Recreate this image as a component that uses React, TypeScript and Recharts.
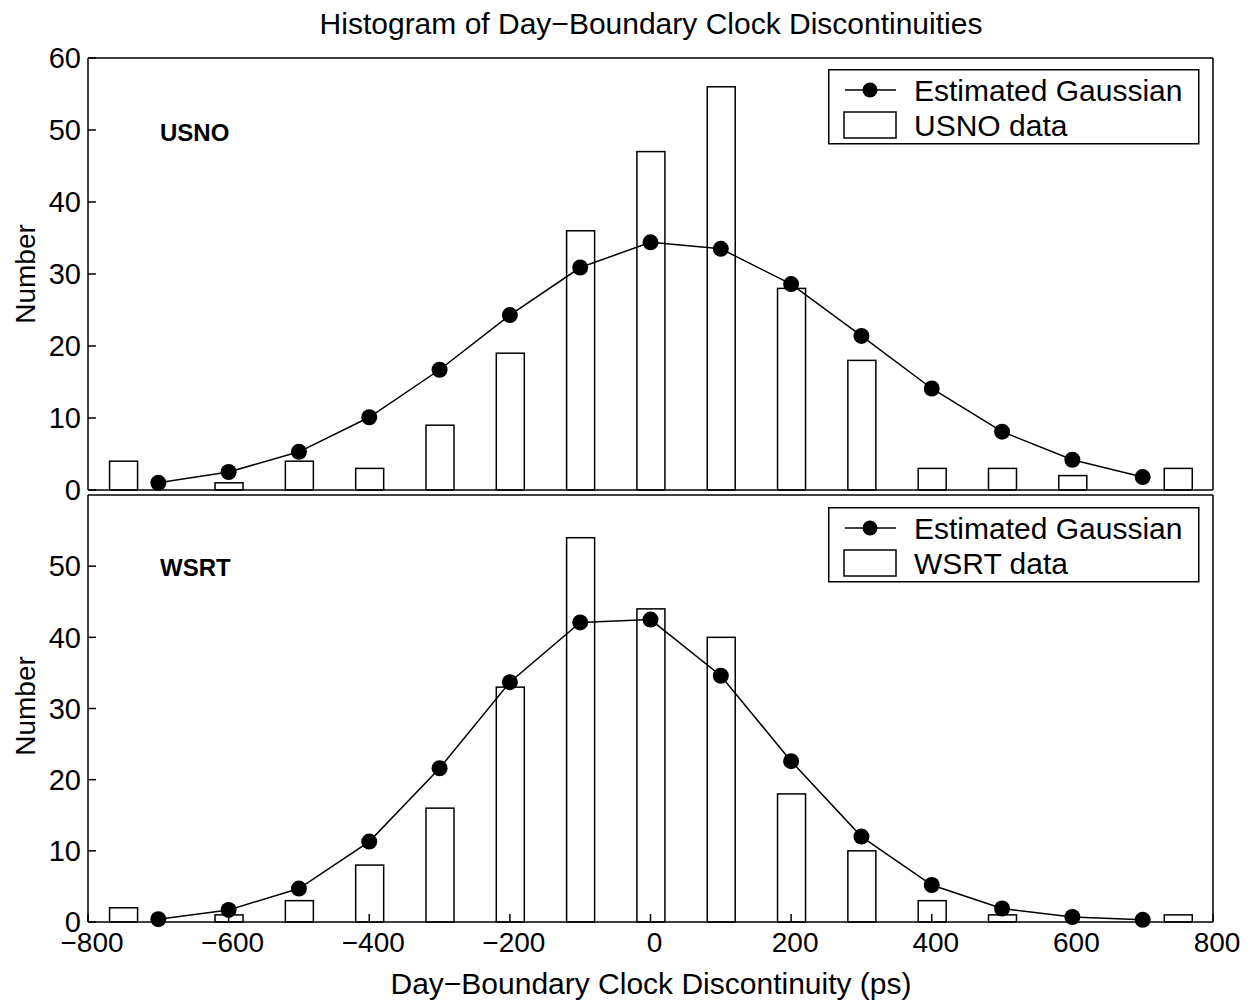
import { ComposedChart, Bar, Line, XAxis, YAxis } from 'recharts'

// histogram bins (ps) and counts
const binCenters = [-750, -600, -500, -400, -300, -200, -100, 0, 100, 200, 300, 400, 500, 600, 750]
const usnoCounts = [4, 1, 4, 3, 9, 19, 36, 47, 56, 28, 18, 3, 3, 2, 3]
const wsrtCounts = [2, 1, 3, 8, 16, 33, 54, 44, 40, 18, 10, 3, 1, 0, 1]

// estimated gaussian sample points
const gaussCenters = [-700, -600, -500, -400, -300, -200, -100, 0, 100, 200, 300, 400, 500, 600, 700]
const usnoGauss = [1.0, 2.5, 5.3, 10.1, 16.7, 24.3, 30.9, 34.4, 33.5, 28.6, 21.4, 14.1, 8.1, 4.2, 1.8]
const wsrtGauss = [0.4, 1.7, 4.7, 11.3, 21.6, 33.7, 42.1, 42.5, 34.6, 22.6, 12.0, 5.2, 1.9, 0.7, 0.3]

const xTicks = [-800, -600, -400, -200, 0, 200, 400, 600, 800]
const yTicksTop = [0, 10, 20, 30, 40, 50, 60]
const yTicksBottom = [0, 10, 20, 30, 40, 50]

const FONT = '"Liberation Sans", Arial, Helvetica, sans-serif'
const W = 1251

function buildRows(counts: number[], gauss: number[]) {
  const xs = Array.from(new Set([...binCenters, ...gaussCenters])).sort((a, b) => a - b)
  return xs.map((x) => {
    const bi = binCenters.indexOf(x)
    const gi = gaussCenters.indexOf(x)
    return {
      x,
      count: bi >= 0 ? counts[bi] : null,
      gauss: gi >= 0 ? gauss[gi] : null,
    }
  })
}

const fmt = (v: number) => (v < 0 ? `\u2212${-v}` : `${v}`)

const BarShape = (props: any) => {
  const { x, y, width, height, value } = props
  if (value == null || !height || height <= 0) return null
  return <rect x={x} y={y} width={width} height={height} fill="#fff" stroke="#000" strokeWidth={1.5} />
}

interface PanelProps {
  counts: number[]
  gauss: number[]
  yTicks: number[]
  height: number
  top: number
  bottom: number
  showXLabels: boolean
}

function Panel({ counts, gauss, yTicks, height, top, bottom, showXLabels }: PanelProps) {
  const data = buildRows(counts, gauss)
  const axisStyle = { stroke: '#000', strokeWidth: 1.5 }
  return (
    <ComposedChart
      width={W}
      height={height}
      data={data}
      margin={{ top: top - 1, right: W - 1213 - 1, bottom: height - bottom - 1, left: 8 }}
    >
      <XAxis
        xAxisId="top"
        orientation="top"
        dataKey="x"
        type="number"
        domain={[-800, 800]}
        ticks={xTicks}
        height={1}
        tick={false}
        tickSize={-8}
        axisLine={axisStyle}
        tickLine={axisStyle}
      />
      <XAxis
        dataKey="x"
        type="number"
        domain={[-800, 800]}
        ticks={xTicks}
        height={1}
        tick={showXLabels ? { fill: '#000', fontSize: 28, fontFamily: FONT, dx: 4 } : false}
        tickFormatter={fmt}
        tickSize={-8}
        tickMargin={18}
        axisLine={axisStyle}
        tickLine={axisStyle}
        interval={0}
      />
      <YAxis
        type="number"
        domain={[0, 60]}
        ticks={yTicks}
        width={80}
        tick={{ fill: '#000', fontSize: 29, fontFamily: FONT }}
        tickSize={-8}
        tickMargin={15}
        axisLine={axisStyle}
        tickLine={axisStyle}
        interval={0}
      />
      <YAxis
        yAxisId="r"
        orientation="right"
        type="number"
        domain={[0, 60]}
        ticks={yTicks}
        width={1}
        tick={false}
        tickSize={-8}
        axisLine={axisStyle}
        tickLine={axisStyle}
      />
      <Bar dataKey="count" barSize={28} shape={BarShape} isAnimationActive={false} />
      <Line
        dataKey="gauss"
        connectNulls
        stroke="#000"
        strokeWidth={1.5}
        dot={{ r: 8, fill: '#000', stroke: '#000', strokeWidth: 0 }}
        isAnimationActive={false}
      />
    </ComposedChart>
  )
}

function LegendBox({ left, top, name }: { left: number; top: number; name: string }) {
  return (
    <svg style={{ position: 'absolute', left, top }} width={373} height={77}>
      <rect x={0.75} y={0.75} width={370} height={74} fill="#fff" stroke="#000" strokeWidth={1.5} />
      <line x1={17} y1={21} x2={68} y2={21} stroke="#000" strokeWidth={1.5} />
      <circle cx={42} cy={21} r={7.5} fill="#000" />
      <text x={86} y={31.5} fontSize={30} fontFamily={FONT} fill="#000">Estimated Gaussian</text>
      <rect x={16} y={43} width={52} height={26} fill="#fff" stroke="#000" strokeWidth={1.5} />
      <text x={86} y={66.5} fontSize={30} fontFamily={FONT} fill="#000">{name}</text>
    </svg>
  )
}

const textBase: React.CSSProperties = { position: 'absolute', fontFamily: FONT, color: '#000', whiteSpace: 'nowrap', lineHeight: 1 }

export default function App() {
  return (
    <div style={{ position: 'absolute', left: 0, top: 0, width: W, height: 1000, background: '#fff' }}>
      <div style={{ position: 'absolute', left: 0, top: 0 }}>
        <Panel counts={usnoCounts} gauss={usnoGauss} yTicks={yTicksTop} height={520} top={58} bottom={490} showXLabels={false} />
      </div>
      <div style={{ position: 'absolute', left: 0, top: 0 }}>
        <Panel counts={wsrtCounts} gauss={wsrtGauss} yTicks={yTicksBottom} height={1000} top={495} bottom={922} showXLabels />
      </div>

      <div style={{ ...textBase, left: 651, top: 9, fontSize: 30, transform: 'translateX(-50%)' }}>
        Histogram of Day{'\u2212'}Boundary Clock Discontinuities
      </div>
      <div style={{ ...textBase, left: 651, top: 969, fontSize: 30, transform: 'translateX(-50%)' }}>
        Day{'\u2212'}Boundary Clock Discontinuity (ps)
      </div>
      <div style={{ ...textBase, left: 26, top: 274, fontSize: 28, transform: 'translate(-50%, -50%) rotate(-90deg)' }}>Number</div>
      <div style={{ ...textBase, left: 26, top: 706, fontSize: 28, transform: 'translate(-50%, -50%) rotate(-90deg)' }}>Number</div>

      <div style={{ ...textBase, left: 160, top: 121, fontSize: 24, fontWeight: 'bold' }}>USNO</div>
      <div style={{ ...textBase, left: 160, top: 556, fontSize: 24, fontWeight: 'bold' }}>WSRT</div>

      <LegendBox left={828} top={69} name="USNO data" />
      <LegendBox left={828} top={507} name="WSRT data" />
    </div>
  )
}
